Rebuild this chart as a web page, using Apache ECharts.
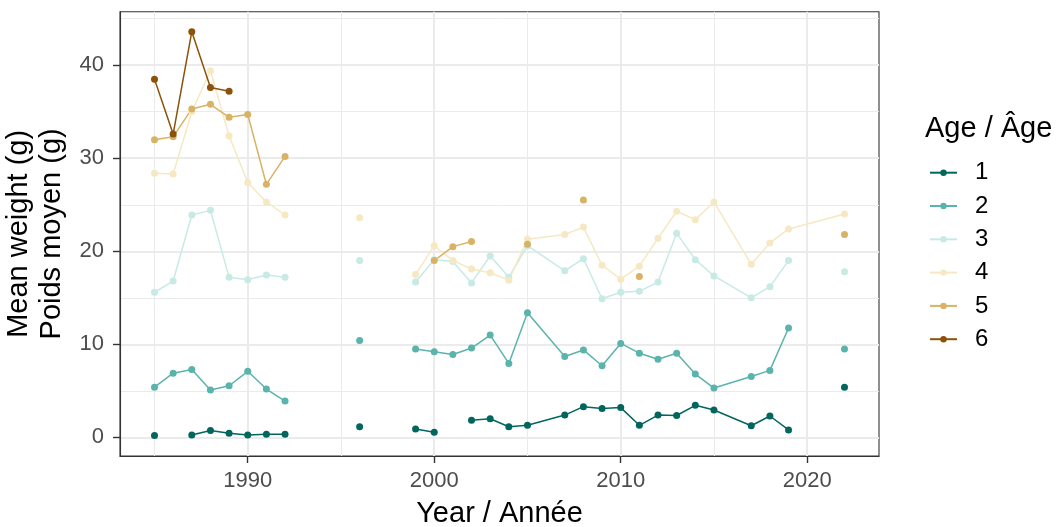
<!DOCTYPE html>
<html>
<head>
<meta charset="utf-8">
<script src="https://cdn.jsdelivr.net/npm/echarts@6/dist/echarts.min.js"></script>
<style>
  html, body { margin: 0; padding: 0; background: #ffffff; }
  #chart { width: 1064px; height: 527px; }
</style>
</head>
<body>
<div id="chart"></div>
<script>
// Mean weight (g) by year for each age class; null marks a year with no estimate (line break)
const age1 = [[1985,0.2],[1986,null],[1987,0.25],[1988,0.75],[1989,0.45],[1990,0.25],[1991,0.35],[1992,0.35],[1993,null],[1996,1.15],[1997,null],[1999,0.9],[2000,0.55],[2001,null],[2002,1.85],[2003,2.0],[2004,1.15],[2005,1.3],[2007,2.4],[2008,3.3],[2009,3.1],[2010,3.2],[2011,1.3],[2012,2.4],[2013,2.35],[2014,3.45],[2015,2.95],[2017,1.25],[2018,2.3],[2019,0.8],[2020,null],[2022,5.4]];
const age2 = [[1985,5.4],[1986,6.9],[1987,7.3],[1988,5.1],[1989,5.55],[1990,7.1],[1991,5.2],[1992,3.9],[1993,null],[1996,10.4],[1997,null],[1999,9.5],[2000,9.2],[2001,8.9],[2002,9.6],[2003,11.0],[2004,7.95],[2005,13.4],[2007,8.7],[2008,9.4],[2009,7.7],[2010,10.1],[2011,9.05],[2012,8.4],[2013,9.05],[2014,6.8],[2015,5.3],[2017,6.55],[2018,7.2],[2019,11.75],[2020,null],[2022,9.5]];
const age3 = [[1985,15.6],[1986,16.8],[1987,23.9],[1988,24.4],[1989,17.2],[1990,16.95],[1991,17.45],[1992,17.2],[1993,null],[1996,19.0],[1997,null],[1999,16.7],[2000,19.1],[2001,18.9],[2002,16.6],[2003,19.5],[2004,17.2],[2005,20.6],[2007,17.9],[2008,19.2],[2009,14.9],[2010,15.6],[2011,15.7],[2012,16.7],[2013,21.95],[2014,19.1],[2015,17.35],[2017,15.0],[2018,16.2],[2019,19.0],[2020,null],[2022,17.8]];
const age4 = [[1985,28.4],[1986,28.3],[1987,35.0],[1988,39.4],[1989,32.4],[1990,27.4],[1991,25.3],[1992,23.9],[1993,null],[1996,23.6],[1997,null],[1999,17.5],[2000,20.6],[2001,19.0],[2002,18.1],[2003,17.7],[2004,16.9],[2005,21.3],[2007,21.8],[2008,22.6],[2009,18.5],[2010,17.0],[2011,18.4],[2012,21.4],[2013,24.3],[2014,23.4],[2015,25.3],[2017,18.6],[2018,20.9],[2019,22.4],[2022,24.0]];
const age5 = [[1985,32.0],[1986,32.3],[1987,35.3],[1988,35.8],[1989,34.4],[1990,34.7],[1991,27.2],[1992,30.2],[1993,null],[2000,19.0],[2001,20.5],[2002,21.05],[2003,null],[2005,20.75],[2007,null],[2008,25.5],[2009,null],[2011,17.3],[2012,null],[2022,21.8]];
const age6 = [[1985,38.5],[1986,32.6],[1987,43.6],[1988,37.6],[1989,37.2]];

const ageNames = ['1', '2', '3', '4', '5', '6'];
const ageSeries = [age1, age2, age3, age4, age5, age6];
const ageColors = ['#01665E', '#5AB4AC', '#C7EAE5', '#F6E8C3', '#D8B365', '#8C510A'];

const xMajorTicks = [1990, 2000, 2010, 2020];
const xMinorTicks = [1985, 1995, 2005, 2015];
const yMajorTicks = [0, 10, 20, 30, 40];
const yMinorTicks = [5, 15, 25, 35, 45];

const xRange = [1983.15, 2023.85];
const yRange = [-2.0, 45.75];

const FONT = "'Liberation Sans', Arial, sans-serif";
const GRID_COL = '#EBEBEB';
const FRAME_COL = '#333333';

const chart = echarts.init(document.getElementById('chart'), null, { renderer: 'canvas' });

function majorAxis(extra) {
  return Object.assign({
    type: 'value',
    axisLine: { show: true, onZero: false, lineStyle: { color: FRAME_COL, width: 1.1 } },
    splitLine: { show: true, lineStyle: { color: GRID_COL, width: 2 } }
  }, extra);
}
function minorAxis(extra) {
  return Object.assign({
    type: 'value',
    axisLine: { show: false, onZero: false },
    splitLine: { show: true, lineStyle: { color: GRID_COL, width: 1 } }
  }, extra);
}

const series = ageSeries.map((rows, i) => ({
  name: ageNames[i],
  type: 'line',
  xAxisIndex: 0,
  yAxisIndex: 0,
  data: rows.map(r => [r[0], r[1] === null ? '-' : r[1]]),
  connectNulls: false,
  showSymbol: true,
  showAllSymbol: true,
  symbol: 'circle',
  symbolSize: 7,
  color: ageColors[i],
  lineStyle: { color: ageColors[i], width: 1.5 },
  itemStyle: { color: ageColors[i] },
  emphasis: { disabled: true },
  z: 3
}));

chart.setOption({
  animation: false,
  backgroundColor: '#ffffff',
  textStyle: { fontFamily: FONT },
  title: {
    text: 'Age / Âge',
    left: 925,
    top: 114,
    padding: 0,
    textStyle: { fontFamily: FONT, fontSize: 29, fontWeight: 'normal', color: '#000000' }
  },
  legend: {
    orient: 'vertical',
    left: 929,
    top: 160.7,
    padding: 0,
    itemWidth: 27,
    itemHeight: 8,
    itemGap: 9.3,
    data: ageNames,
    textStyle: { fontFamily: FONT, fontSize: 24, color: '#000000', padding: [0, 0, 0, 13] }
  },
  grid: {
    left: 120,
    right: 185,
    top: 11.7,
    bottom: 71,
    show: true,
    borderColor: FRAME_COL,
    borderWidth: 1.1,
    backgroundColor: 'transparent',
    containLabel: false,
    outerBoundsMode: 'none'
  },
  xAxis: [
    majorAxis({
      min: xRange[0], max: xRange[1],
      name: 'Year / Année',
      nameLocation: 'middle',
      nameGap: 43,
      nameTextStyle: { fontFamily: FONT, fontSize: 29, color: '#000000' },
      axisTick: { show: true, length: 7, customValues: xMajorTicks, lineStyle: { color: FRAME_COL, width: 1.4 } },
      axisLabel: { color: '#4D4D4D', fontSize: 22, fontFamily: FONT, margin: 14, customValues: xMajorTicks,
                   formatter: v => String(v) }
    }),
    minorAxis({
      min: xRange[0], max: xRange[1],
      position: 'bottom',
      axisTick: { show: false, customValues: xMinorTicks },
      axisLabel: { show: false, customValues: xMinorTicks }
    })
  ],
  yAxis: [
    majorAxis({
      min: yRange[0], max: yRange[1],
      name: 'Mean weight (g)\nPoids moyen (g)',
      nameLocation: 'middle',
      nameRotate: 90,
      nameGap: 50,
      nameTextStyle: { fontFamily: FONT, fontSize: 29, color: '#000000', lineHeight: 33 },
      axisTick: { show: true, length: 7, customValues: yMajorTicks, lineStyle: { color: FRAME_COL, width: 1.4 } },
      axisLabel: { color: '#4D4D4D', fontSize: 22, fontFamily: FONT, margin: 16, customValues: yMajorTicks,
                   formatter: v => String(v) }
    }),
    minorAxis({
      min: yRange[0], max: yRange[1],
      position: 'left',
      axisTick: { show: false, customValues: yMinorTicks },
      axisLabel: { show: false, customValues: yMinorTicks }
    })
  ],
  series: series
});
</script>
</body>
</html>
